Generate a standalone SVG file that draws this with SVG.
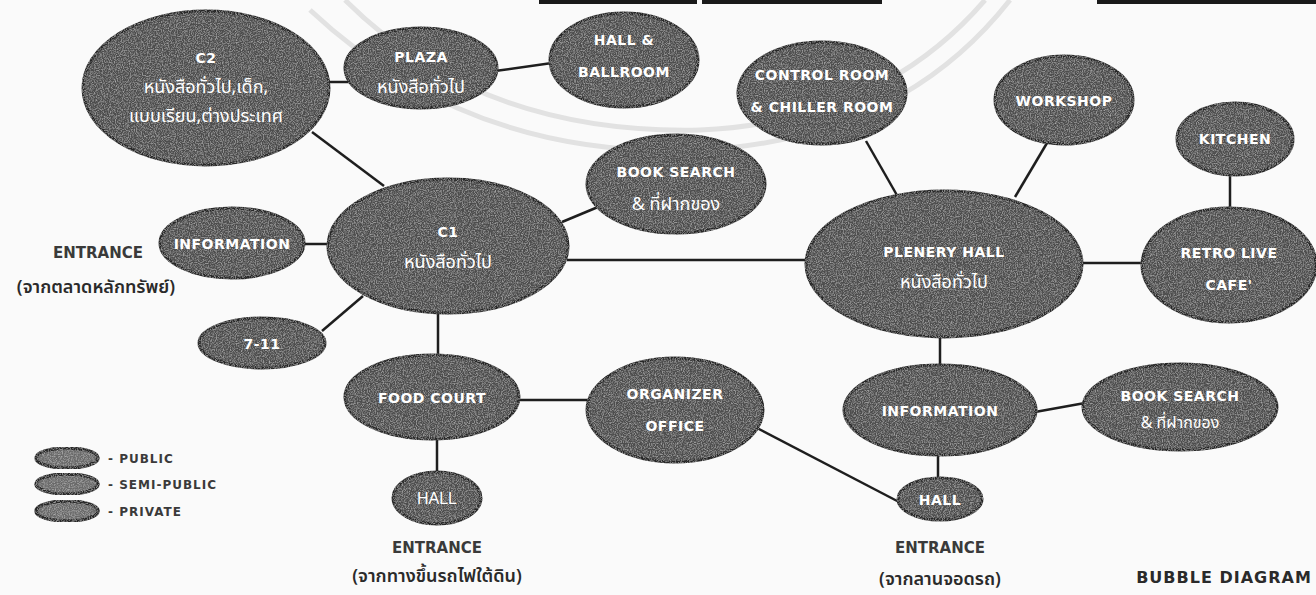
<svg xmlns="http://www.w3.org/2000/svg" width="1316" height="595" viewBox="0 0 1316 595">
  <defs>
    <filter id="grain" x="-5%" y="-5%" width="110%" height="110%">
      <feTurbulence type="fractalNoise" baseFrequency="0.85" numOctaves="2" seed="4" result="noise"/>
      <feColorMatrix in="noise" type="matrix" values="0 0 0 0 0.85  0 0 0 0 0.85  0 0 0 0 0.85  0.9 0 0 0 -0.38" result="speck"/>
      <feComposite in="speck" in2="SourceAlpha" operator="in" result="speckIn"/>
      <feMerge>
        <feMergeNode in="SourceGraphic"/>
        <feMergeNode in="speckIn"/>
      </feMerge>
    </filter>
    <style>
      .bub { fill: #4e4e4e; stroke: #262626; stroke-width: 3; filter: url(#grain); }
      .leg { fill: #6a6a6a; stroke: #262626; stroke-width: 3.5; filter: url(#grain); }
      .lab { font-family: "DejaVu Sans", "Noto Sans", sans-serif; font-weight: bold; font-size: 14px; fill: #ffffff; text-anchor: middle; letter-spacing: 0.5px; }
      .th { font-family: "Noto Sans", "Noto Sans Thai", "DejaVu Sans", sans-serif; font-size: 18px; fill: #ffffff; text-anchor: middle; }
      .plain { font-family: "Liberation Sans", Arial, sans-serif; font-size: 16px; fill: #ffffff; text-anchor: middle; }
      .ent { font-family: "DejaVu Sans", "Noto Sans", sans-serif; font-weight: bold; font-size: 15px; fill: #3a3a3a; text-anchor: middle; }
      .entth { font-family: "Noto Sans", "Noto Sans Thai", "DejaVu Sans", sans-serif; font-size: 18px; font-weight: 600; fill: #2a2a2a; text-anchor: middle; }
      .legt { font-family: "DejaVu Sans", "Noto Sans", sans-serif; font-weight: bold; font-size: 12px; fill: #3a3a3a; letter-spacing: 1px; }
      .title { font-family: "DejaVu Sans", "Noto Sans", sans-serif; font-weight: bold; font-size: 16px; fill: #2a2a2a; letter-spacing: 1px; text-anchor: middle; }
      .edge { stroke: #1e1e1e; stroke-width: 2.5; fill: none; }
    </style>
  </defs>

  <rect width="1316" height="595" fill="#fafafa"/>

  <!-- faint seal in the background -->
  <g id="seal" fill="none" stroke="#e2e2e2" stroke-width="5">
    <path d="M 310 10 Q 470 160 700 150 Q 900 140 1010 0"/>
    <path d="M 345 0 Q 480 135 700 130 Q 880 122 985 0"/>
  </g>

  <!-- cut-off header bars -->
  <g id="header-bars" fill="#1a1a1a">
    <rect x="539" y="0" width="158" height="4"/>
    <rect x="702" y="0" width="180" height="4"/>
    <rect x="1097" y="0" width="219" height="4"/>
  </g>

  <g id="connectors" class="edge">
    <line x1="326" y1="82" x2="350" y2="82"/>
    <line x1="495" y1="71" x2="552" y2="63"/>
    <line x1="312" y1="132" x2="384" y2="186"/>
    <line x1="562" y1="222" x2="598" y2="207"/>
    <line x1="303" y1="244" x2="329" y2="244"/>
    <line x1="322" y1="331" x2="363" y2="296"/>
    <line x1="438" y1="312" x2="438" y2="356"/>
    <line x1="567" y1="260" x2="807" y2="260"/>
    <line x1="518" y1="400" x2="588" y2="400"/>
    <line x1="437" y1="438" x2="437" y2="473"/>
    <line x1="757" y1="428" x2="901" y2="503"/>
    <line x1="866" y1="141" x2="898" y2="197"/>
    <line x1="1047" y1="143" x2="1015" y2="197"/>
    <line x1="1081" y1="263" x2="1143" y2="263"/>
    <line x1="1230" y1="174" x2="1230" y2="209"/>
    <line x1="940" y1="336" x2="940" y2="366"/>
    <line x1="1035" y1="412" x2="1085" y2="403"/>
    <line x1="938" y1="454" x2="938" y2="479"/>
  </g>

  <g id="c2">
    <ellipse class="bub" cx="206" cy="88" rx="123" ry="77"/>
    <text class="lab" x="206" y="63">C2</text>
    <text class="th" x="206" y="93">หนังสือทั่วไป,เด็ก,</text>
    <text class="th" x="206" y="122">แบบเรียน,ต่างประเทศ</text>
  </g>

  <g id="plaza">
    <ellipse class="bub" cx="421" cy="68" rx="76" ry="40"/>
    <text class="lab" x="421" y="62">PLAZA</text>
    <text class="th" x="421" y="93">หนังสือทั่วไป</text>
  </g>

  <g id="hall-ballroom">
    <ellipse class="bub" cx="624" cy="60" rx="74" ry="47"/>
    <text class="lab" x="624" y="45">HALL &amp;</text>
    <text class="lab" x="624" y="77">BALLROOM</text>
  </g>

  <g id="control-room">
    <ellipse class="bub" cx="822" cy="93" rx="84" ry="51"/>
    <text class="lab" x="822" y="80">CONTROL ROOM</text>
    <text class="lab" x="822" y="112">&amp; CHILLER ROOM</text>
  </g>

  <g id="workshop">
    <ellipse class="bub" cx="1064" cy="100" rx="69" ry="44"/>
    <text class="lab" x="1064" y="106">WORKSHOP</text>
  </g>

  <g id="kitchen">
    <ellipse class="bub" cx="1235" cy="139" rx="58" ry="36"/>
    <text class="lab" x="1235" y="144">KITCHEN</text>
  </g>

  <g id="book-search-north">
    <ellipse class="bub" cx="676" cy="184" rx="89" ry="49"/>
    <text class="lab" x="676" y="177">BOOK SEARCH</text>
    <text class="th" x="676" y="210">&amp; ที่ฝากของ</text>
  </g>

  <g id="c1">
    <ellipse class="bub" cx="448" cy="246" rx="120" ry="67"/>
    <text class="lab" x="448" y="237">C1</text>
    <text class="th" x="448" y="268">หนังสือทั่วไป</text>
  </g>

  <g id="information-west">
    <ellipse class="bub" cx="232" cy="243" rx="72" ry="35"/>
    <text class="lab" x="232" y="249">INFORMATION</text>
  </g>

  <g id="entrance-west">
    <text class="ent" x="98" y="258">ENTRANCE</text>
    <text class="entth" x="96" y="293">(จากตลาดหลักทรัพย์)</text>
  </g>

  <g id="seven-eleven">
    <ellipse class="bub" cx="262" cy="343" rx="63" ry="25"/>
    <text class="lab" x="262" y="349">7-11</text>
  </g>

  <g id="plenery-hall">
    <ellipse class="bub" cx="944" cy="264" rx="138" ry="73"/>
    <text class="lab" x="944" y="257">PLENERY HALL</text>
    <text class="th" x="944" y="288">หนังสือทั่วไป</text>
  </g>

  <g id="retro-cafe">
    <ellipse class="bub" cx="1229" cy="265" rx="87" ry="57"/>
    <text class="lab" x="1229" y="258">RETRO LIVE</text>
    <text class="lab" x="1229" y="290">CAFE'</text>
  </g>

  <g id="food-court">
    <ellipse class="bub" cx="432" cy="397" rx="87" ry="42"/>
    <text class="lab" x="432" y="403">FOOD COURT</text>
  </g>

  <g id="organizer-office">
    <ellipse class="bub" cx="675" cy="410" rx="88" ry="52"/>
    <text class="lab" x="675" y="399">ORGANIZER</text>
    <text class="lab" x="675" y="431">OFFICE</text>
  </g>

  <g id="information-east">
    <ellipse class="bub" cx="940" cy="410" rx="96" ry="45"/>
    <text class="lab" x="940" y="416">INFORMATION</text>
  </g>

  <g id="book-search-east">
    <ellipse class="bub" cx="1180" cy="407" rx="97" ry="43"/>
    <text class="lab" x="1180" y="401">BOOK SEARCH</text>
    <text class="th" x="1180" y="428" style="font-size:16px">&amp; ที่ฝากของ</text>
  </g>

  <g id="hall-south">
    <ellipse class="bub" cx="437" cy="498" rx="44" ry="26"/>
    <text class="plain" x="437" y="504">HALL</text>
  </g>

  <g id="entrance-south">
    <text class="ent" x="437" y="553">ENTRANCE</text>
    <text class="entth" x="437" y="582">(จากทางขึ้นรถไฟใต้ดิน)</text>
  </g>

  <g id="hall-east">
    <ellipse class="bub" cx="940" cy="499" rx="42" ry="21"/>
    <text class="lab" x="940" y="505">HALL</text>
  </g>

  <g id="entrance-east">
    <text class="ent" x="940" y="553">ENTRANCE</text>
    <text class="entth" x="940" y="585">(จากลานจอดรถ)</text>
  </g>

  <g id="legend">
    <ellipse class="leg" cx="67" cy="458" rx="31" ry="10"/>
    <text class="legt" x="108" y="463">- PUBLIC</text>
    <ellipse class="leg" cx="67" cy="484" rx="31" ry="10"/>
    <text class="legt" x="108" y="489">- SEMI-PUBLIC</text>
    <ellipse class="leg" cx="67" cy="511" rx="31" ry="10"/>
    <text class="legt" x="108" y="516">- PRIVATE</text>
  </g>

  <text id="title" class="title" x="1224" y="583">BUBBLE DIAGRAM</text>
</svg>
